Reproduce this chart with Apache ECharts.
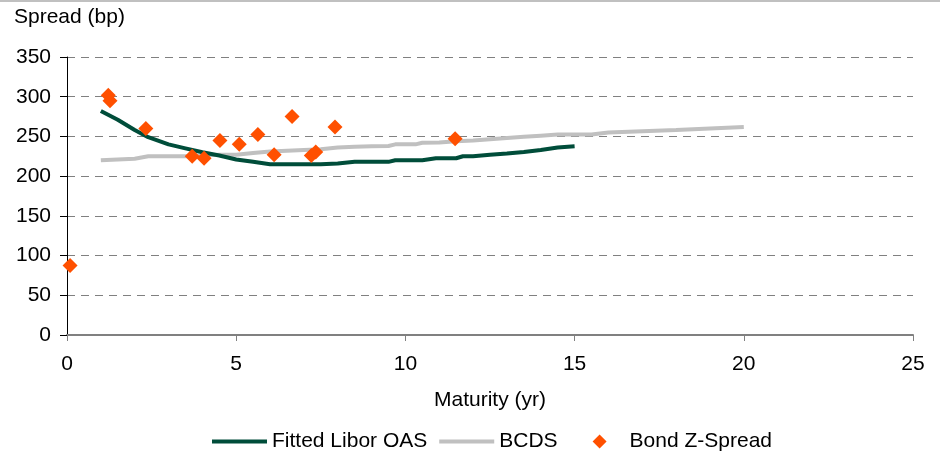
<!DOCTYPE html>
<html>
<head>
<meta charset="utf-8">
<script src="https://cdn.jsdelivr.net/npm/echarts@6/dist/echarts.min.js"></script>
<style>
  html, body { margin: 0; padding: 0; background: #fff; }
  #main { width: 940px; height: 454px; border-top: 2px solid #c0c0c0; }
</style>
</head>
<body>
<div id="main"></div>
<script>
// Fitted Libor OAS curve
var oasYears = [1, 1.5, 2, 2.4, 3, 3.5, 4, 4.5, 5, 5.5, 6, 6.5, 7, 7.5, 8, 8.5, 9, 9.5, 9.7, 10.5, 10.9, 11.5, 11.7, 12, 12.5, 13, 13.5, 14, 14.5, 15];
var oasValues = [282, 271, 258, 249, 240, 235, 230, 226, 221, 218, 215, 215, 215, 215, 216, 218, 218, 218, 220, 220, 222.5, 222.5, 225, 225, 227, 228.5, 230.5, 233, 236, 237.5];

// BCDS curve
var bcdsYears = [1, 2, 2.4, 3, 3.5, 4, 4.5, 5, 5.5, 6, 6.5, 7, 7.5, 8, 8.5, 9, 9.5, 9.7, 10.3, 10.5, 11, 11.5, 12, 12.5, 13, 13.5, 14, 14.5, 15, 15.5, 16, 17, 18, 19, 20];
var bcdsValues = [220, 222, 225, 225, 225, 226, 227, 227, 229, 231, 232, 233, 234, 236, 237, 237.5, 238, 240, 240, 242, 242.5, 244, 245, 246.5, 248, 249.5, 251, 252.5, 252.5, 252.5, 255, 256.5, 258, 260, 262];

// Bond Z-Spread points
var bondYears = [0.09, 1.22, 1.27, 2.33, 3.7, 4.05, 4.52, 5.09, 5.64, 6.12, 6.65, 7.22, 7.35, 7.92, 11.47];
var bondSpreads = [87.5, 302, 295, 260, 225, 222.5, 245, 240, 252.5, 227, 275, 226, 230.5, 262, 247];

var xTicks = [0, 25, 5];   // min, max, interval
var yTicks = [0, 350, 50];

function zip(xs, ys) {
  return xs.map(function (x, i) { return [x, ys[i]]; });
}

var font = "'Liberation Sans', Arial, sans-serif";
var lineIcon = "path://M0,0 L55,0 L55,4 L0,4 Z";
// diamond in the middle of a 55x14 box (zero-size end pieces keep the box width)
var diamondIcon = "path://M0,7 L0,7 Z M23,7 L30,0 L37,7 L30,14 Z M55,7 L55,7 Z";
var myChart = echarts.init(document.getElementById("main"));

var option = {
  animation: false,
  textStyle: { fontFamily: font, color: "#000" },
  title: {
    text: "Spread (bp)",
    left: 14,
    top: 5,
    padding: 0,
    textStyle: { fontFamily: font, fontSize: 21, fontWeight: "normal", color: "#000" }
  },
  legend: {
    left: 212,
    top: 429,
    padding: 0,
    itemWidth: 55,
    itemHeight: 14,
    itemGap: 12,
    textStyle: { fontFamily: font, fontSize: 21, color: "#000" },
    data: [
      { name: "Fitted Libor OAS", icon: lineIcon },
      { name: "BCDS", icon: lineIcon },
      { name: "Bond Z-Spread", icon: diamondIcon }
    ]
  },
  grid: { left: 67, right: 27, top: 55, bottom: 121, containLabel: false },
  xAxis: {
    type: "value",
    min: xTicks[0],
    max: xTicks[1],
    interval: xTicks[2],
    name: "Maturity (yr)",
    nameLocation: "middle",
    nameGap: 55,
    nameTextStyle: { fontFamily: font, fontSize: 21, color: "#000" },
    axisLine: { lineStyle: { color: "#808080", width: 2 } },
    axisTick: { show: true, length: 6, lineStyle: { color: "#808080", width: 1 } },
    axisLabel: { fontFamily: font, fontSize: 21, color: "#000", margin: 19 },
    splitLine: { show: false }
  },
  yAxis: {
    type: "value",
    min: yTicks[0],
    max: yTicks[1],
    interval: yTicks[2],
    axisLine: { show: true, lineStyle: { color: "#000", width: 1 } },
    axisTick: { show: true, length: 7, lineStyle: { color: "#000", width: 1 } },
    axisLabel: { fontFamily: font, fontSize: 21, color: "#000", margin: 16 },
    splitLine: { show: true, lineStyle: { color: "#808080", width: 1, type: [8, 6] } }
  },
  series: [
    {
      name: "Fitted Libor OAS",
      type: "line",
      symbol: "none",
      data: zip(oasYears, oasValues),
      lineStyle: { color: "#004d3a", width: 4 },
      itemStyle: { color: "#004d3a" },
      z: 3
    },
    {
      name: "BCDS",
      type: "line",
      symbol: "none",
      data: zip(bcdsYears, bcdsValues),
      lineStyle: { color: "#c0c0c0", width: 4 },
      itemStyle: { color: "#c0c0c0" },
      z: 2
    },
    {
      name: "Bond Z-Spread",
      type: "scatter",
      symbol: "diamond",
      symbolSize: 15,
      data: zip(bondYears, bondSpreads),
      itemStyle: { color: "#ff5000", opacity: 1 },
      z: 4
    }
  ]
};

myChart.setOption(option);
</script>
</body>
</html>
